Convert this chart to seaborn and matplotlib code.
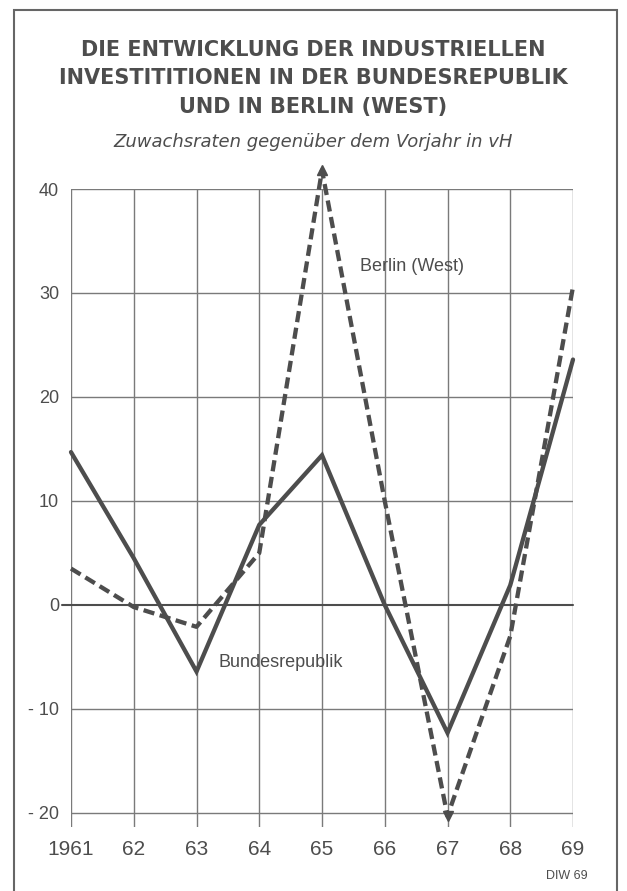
import matplotlib
matplotlib.use("Agg")
import matplotlib.pyplot as plt
import seaborn as sns
import pandas as pd
from matplotlib.patches import Rectangle

# ---- data ----
years = [1961, 1962, 1963, 1964, 1965, 1966, 1967, 1968, 1969]
year_labels = ["1961", "62", "63", "64", "65", "66", "67", "68", "69"]
bundesrepublik = [14.7, 4.5, -6.4, 7.7, 14.4, 0.0, -12.3, 1.9, 23.6]
berlin_west = [3.5, -0.2, -2.1, 5.0, 41.8, 10.0, -20.3, -3.0, 30.6]
y_ticks = [-20, -10, 0, 10, 20, 30, 40]
y_labels = ["- 20", "- 10", "0", "10", "20", "30", "40"]

title_lines = ["DIE ENTWICKLUNG DER INDUSTRIELLEN",
               "INVESTITITIONEN IN DER BUNDESREPUBLIK",
               "UND IN BERLIN (WEST)"]
subtitle = "Zuwachsraten gegenüber dem Vorjahr in vH"

sns.set_theme(style="white")
plt.rcParams['font.family'] = ['DejaVu Sans']

INK = "#4d4d4d"
GRID = "#7a7a7a"
NARROW = ['Liberation Sans', 'DejaVu Sans']

W, H = 627, 891
fig = plt.figure(figsize=(W / 100, H / 100), dpi=100)
fig.patch.set_facecolor("white")

def fx(px):
    return px / W

def fy(py):
    return 1 - py / H

ax_left, ax_right, ax_top, ax_bottom = 71, 573, 189, 827
ax = fig.add_axes([fx(ax_left), fy(ax_bottom), fx(ax_right - ax_left), (ax_bottom - ax_top) / H])
ax.set_facecolor("white")

df = pd.DataFrame({"Jahr": years, "Bundesrepublik": bundesrepublik, "Berlin (West)": berlin_west})

sns.lineplot(data=df, x="Jahr", y="Bundesrepublik", ax=ax, color=INK, lw=3.1)
sns.lineplot(data=df, x="Jahr", y="Berlin (West)", ax=ax, color=INK, lw=3.1)
for ln in ax.lines:
    ln.set_clip_on(False)
    ln.set_solid_joinstyle("miter")
ax.lines[1].set_dashes((2.6, 1.3))

# arrow heads on the Berlin extremes
ax.plot([years[4]], [berlin_west[4]], marker="^", ms=7, color=INK, clip_on=False, zorder=5)
ax.plot([years[6]], [berlin_west[6]], marker="v", ms=7, color=INK, clip_on=False, zorder=5)

ax.set_xlim(1961, 1969)
ax.set_ylim(-21.35, 40)

# grid
for x in years:
    ax.axvline(x, color=GRID, lw=1.0, zorder=0)
for y in y_ticks:
    if y == 0:
        ax.plot([1960.85, 1969], [0, 0], color=INK, lw=1.5, zorder=1, clip_on=False)
    else:
        ax.axhline(y, color=GRID, lw=1.0, zorder=0)

for s in ax.spines.values():
    s.set_visible(False)

ax.set_xticks(years)
ax.set_xticklabels(year_labels, fontsize=15, color=INK, family=NARROW)
ax.set_yticks(y_ticks)
ax.set_yticklabels(y_labels, fontsize=13, color=INK, family=NARROW)
ax.tick_params(axis="x", length=0, pad=9.5)
ax.tick_params(axis="y", length=0, pad=8.5)
ax.set_xlabel("")
ax.set_ylabel("")
ax.grid(False)

# series labels
ax.text(1965.0 + (412 - 322) / 62.75, (605 - 267) / 10.4, "Berlin (West)", fontsize=13,
        color=INK, family=NARROW, ha="center", va="center")
ax.text(1963.0 + (280 - 196) / 62.75, (605 - 663) / 10.4, "Bundesrepublik", fontsize=13,
        color=INK, family=NARROW, ha="center", va="center")

# titles
for i, line in enumerate(title_lines):
    fig.text(0.5, fy(50 + 28.5 * i), line, ha="center", va="center", fontsize=15,
             fontweight="bold", color=INK)
fig.text(0.5, fy(142), subtitle, ha="center", va="center", fontsize=13,
         style="italic", color=INK)

fig.text(fx(567), fy(876), "DIW 69", ha="center", va="center", fontsize=9, color=INK,
         family=NARROW)

# outer frame
fig.patches.append(Rectangle((fx(14), fy(900)), fx(617 - 14), (900 - 10) / H,
                             transform=fig.transFigure, fill=False, ec="#666666", lw=1.5,
                             figure=fig))

fig.savefig("out.png", dpi=100, facecolor="white")
